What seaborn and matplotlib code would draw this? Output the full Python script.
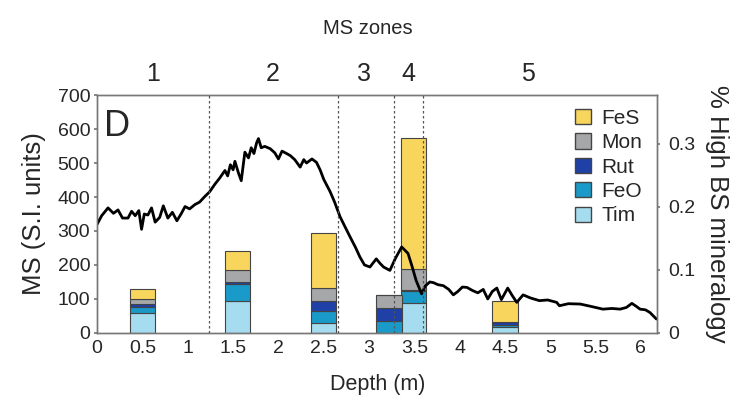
import numpy as np
import pandas as pd
import matplotlib
import matplotlib.pyplot as plt
import seaborn as sns
from matplotlib.patches import Patch

matplotlib.use('Agg')

# MS curve (depth in m, MS in S.I. units)
depth = [0.0, 0.05, 0.12, 0.18, 0.23, 0.28, 0.34, 0.38, 0.42, 0.46, 0.49, 0.52, 0.56, 0.60, 0.64,
         0.69, 0.73, 0.78, 0.83, 0.88, 0.93, 0.97, 1.02, 1.08, 1.13, 1.19, 1.24, 1.30, 1.35, 1.41,
         1.44, 1.47, 1.50, 1.52, 1.56, 1.59, 1.63, 1.67, 1.70, 1.73, 1.76, 1.78, 1.81, 1.85, 1.91,
         1.96, 2.0, 2.04, 2.09, 2.13, 2.18, 2.24, 2.28, 2.31, 2.37, 2.42, 2.46, 2.50, 2.57, 2.62,
         2.68, 2.73, 2.79, 2.85, 2.90, 2.95, 3.01, 3.08, 3.12, 3.16, 3.23, 3.29, 3.36, 3.43, 3.47,
         3.52, 3.58, 3.62, 3.67, 3.71, 3.76, 3.82, 3.88, 3.93, 3.98, 4.03, 4.08, 4.14, 4.20, 4.26,
         4.31, 4.36, 4.41, 4.46, 4.53, 4.58, 4.63, 4.70, 4.78, 4.88, 4.97, 5.07, 5.10, 5.20, 5.33,
         5.45, 5.58, 5.68, 5.77, 5.84, 5.90, 5.95, 5.99, 6.05, 6.10, 6.17]
ms = [320, 345, 368, 352, 362, 338, 338, 358, 345, 360, 305, 350, 347, 368, 326,
      340, 374, 338, 355, 330, 352, 372, 365, 378, 385, 402, 415, 438, 455, 478,
      462, 495, 480, 505, 470, 448, 532, 515, 545, 528, 560, 572, 545, 549, 542,
      530, 512, 535, 528, 522, 510, 488, 510, 500, 512, 502, 480, 452, 416, 385,
      342, 315, 283, 252, 223, 200, 194, 218, 205, 194, 184, 219, 253, 234, 200,
      154, 115, 138, 150, 148, 142, 139, 128, 112, 122, 135, 134, 125, 118, 128,
      100, 122, 132, 98, 132, 110, 90, 112, 103, 95, 97, 90, 80, 86, 85,
      78, 70, 72, 70, 75, 87, 78, 70, 68, 60, 41]

# high BS mineralogy bars (fraction), stacked bottom -> top
bar_depth = [0.5, 1.55, 2.5, 3.22, 3.49, 4.5]
tim = [0.031, 0.051, 0.016, 0.0, 0.047, 0.009]
feo = [0.010, 0.027, 0.019, 0.019, 0.020, 0.004]
rut = [0.005, 0.002, 0.015, 0.020, 0.001, 0.004]
mon = [0.007, 0.020, 0.022, 0.021, 0.033, 0.0]
fes = [0.016, 0.030, 0.087, 0.0, 0.208, 0.034]

minerals = ['Tim', 'FeO', 'Rut', 'Mon', 'FeS']
colors = {'FeS': '#f8d55c', 'Mon': '#a5a7a8', 'Rut': '#1f40a6',
          'FeO': '#1a9ac8', 'Tim': '#a6dcef'}

zone_bounds = [1.23, 2.66, 3.27, 3.6]
zone_labels = ['1', '2', '3', '4', '5']
zone_label_x = [0.62, 1.94, 2.94, 3.43, 4.75]

sns.set_theme(style='white')
plt.rcParams['font.family'] = ['Liberation Sans', 'DejaVu Sans']

fig = plt.figure(figsize=(7.36, 4.08), dpi=100)
ax = fig.add_axes([0.132, 0.184, 0.761, 0.583])
ax2 = ax.twinx()

df = pd.DataFrame({'depth': depth, 'ms': ms})

# stacked bars on right axis
bottom = np.zeros(len(bar_depth))
vals = {'Tim': tim, 'FeO': feo, 'Rut': rut, 'Mon': mon, 'FeS': fes}
for m in minerals:
    v = np.array(vals[m])
    ax2.bar(bar_depth, v, bottom=bottom, width=0.28, color=colors[m],
            edgecolor='#444444', linewidth=0.8, zorder=1)
    bottom += v

ax2.set_ylim(0, 0.377)
ax2.set_yticks([0, 0.1, 0.2, 0.3])
ax2.set_yticklabels(['0', '0.1', '0.2', '0.3'])
ax2.set_ylabel('% High BS mineralogy', rotation=270, labelpad=24, fontsize=18.5)

# MS curve drawn on top of bars
ax.set_zorder(ax2.get_zorder() + 1)
ax.patch.set_visible(False)
sns.lineplot(data=df, x='depth', y='ms', ax=ax, color='black', linewidth=2.0)

for b in zone_bounds:
    ax.axvline(b, color='#555555', linestyle=(0, (2, 2)), linewidth=0.9, zorder=3)

ax.set_xlim(0, 6.18)
ax.set_ylim(0, 700)
ax.set_xticks([0, 0.5, 1, 1.5, 2, 2.5, 3, 3.5, 4, 4.5, 5, 5.5, 6])
ax.set_xticklabels(['0', '0.5', '1', '1.5', '2', '2.5', '3', '3.5', '4', '4.5', '5', '5.5', '6'])
ax.set_yticks(range(0, 701, 100))
ax.set_xlabel('Depth (m)', fontsize=15.5, labelpad=12)
ax.set_ylabel('MS (S.I. units)', fontsize=18.5, labelpad=8)

for a in (ax, ax2):
    a.tick_params(labelsize=14, length=3, color='#777777', pad=2)
    for s in a.spines.values():
        s.set_color('#777777')
        s.set_linewidth(1.0)
ax.tick_params(axis='both', direction='out', length=2, pad=3)
ax2.tick_params(axis='y', direction='out', length=2, pad=6)

ax.text(0.08, 660, 'D', fontsize=26, va='top', ha='left')

# zone labels above plot
for x, lab in zip(zone_label_x, zone_labels):
    ax.text(x, 1.04, lab, fontsize=18, ha='center', va='bottom',
            transform=ax.get_xaxis_transform())
fig.text(0.5, 0.93, 'MS zones', fontsize=14.5, ha='center', va='center')

handles = [Patch(facecolor=colors[m], edgecolor='#444444', label=m)
           for m in ['FeS', 'Mon', 'Rut', 'FeO', 'Tim']]
ax.legend(handles=handles, loc='upper right', frameon=False, fontsize=15,
          handlelength=0.75, handleheight=0.75, handletextpad=0.5,
          labelspacing=0.26, borderaxespad=0.2, bbox_to_anchor=(0.995, 0.995))

fig.savefig('out.png', dpi=100)
